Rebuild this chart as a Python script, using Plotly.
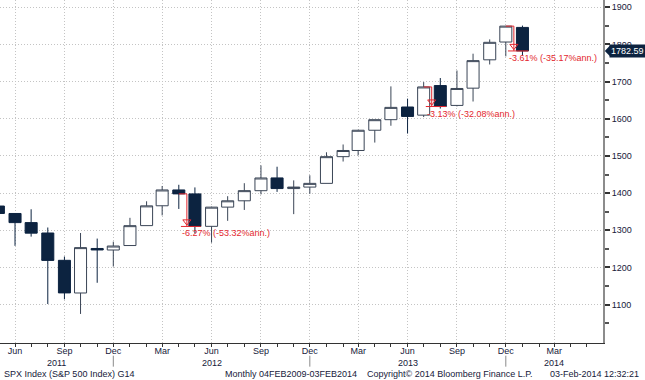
import plotly.graph_objects as go
from datetime import date, timedelta

# ---- data (monthly SPX candles) ----
months = ["2011-05-01", "2011-06-01", "2011-07-01", "2011-08-01", "2011-09-01", "2011-10-01",
          "2011-11-01", "2011-12-01", "2012-01-01", "2012-02-01", "2012-03-01", "2012-04-01",
          "2012-05-01", "2012-06-01", "2012-07-01", "2012-08-01", "2012-09-01", "2012-10-01",
          "2012-11-01", "2012-12-01", "2013-01-01", "2013-02-01", "2013-03-01", "2013-04-01",
          "2013-05-01", "2013-06-01", "2013-07-01", "2013-08-01", "2013-09-01", "2013-10-01",
          "2013-11-01", "2013-12-01", "2014-01-01"]
open_ = [1365.2, 1345.2, 1320.6, 1292.6, 1219.1, 1131.2, 1251.0, 1246.9, 1258.9, 1312.5, 1365.9,
         1408.5, 1397.9, 1310.6, 1362.3, 1379.3, 1406.5, 1440.9, 1412.2, 1416.2, 1426.2, 1498.1,
         1514.7, 1569.2, 1597.6, 1631.7, 1609.8, 1689.4, 1636.0, 1682.4, 1758.7, 1806.6, 1845.9]
high = [1370.6, 1345.2, 1356.5, 1307.4, 1229.3, 1292.7, 1277.6, 1269.4, 1333.5, 1378.0, 1419.2,
        1422.4, 1415.3, 1363.5, 1391.7, 1426.7, 1474.5, 1471.0, 1434.3, 1448.0, 1509.9, 1530.9,
        1570.3, 1597.6, 1687.2, 1654.2, 1698.8, 1709.7, 1729.9, 1775.2, 1813.6, 1849.4, 1850.8]
low = [1311.8, 1258.1, 1282.9, 1101.5, 1114.2, 1074.8, 1158.7, 1202.4, 1258.9, 1312.5, 1340.0,
       1357.4, 1292.0, 1266.7, 1325.4, 1354.7, 1396.6, 1403.3, 1343.4, 1398.1, 1426.2, 1485.0,
       1501.5, 1536.0, 1581.3, 1560.3, 1604.6, 1627.5, 1633.4, 1646.5, 1746.2, 1768.0, 1770.5]
close = [1345.2, 1320.6, 1292.3, 1218.9, 1131.4, 1253.3, 1247.0, 1257.6, 1312.4, 1365.7, 1408.5,
         1397.9, 1310.3, 1362.2, 1379.3, 1406.6, 1440.7, 1412.2, 1416.2, 1426.2, 1498.1, 1514.7,
         1569.2, 1597.6, 1630.7, 1606.3, 1685.7, 1633.0, 1681.6, 1756.5, 1805.8, 1849.4, 1782.59]

# percent-change markers (index of candle, label)
mark_idx = [12, 27, 32]
mark_labels = ["-6.27% (-53.32%ann.)", "-3.13% (-32.08%ann.)", "-3.61% (-35.17%ann.)"]
last_price = 1782.59
last_label = "1782.59"

tick_dates = ["2011-06-01", "2011-09-01", "2011-12-01", "2012-03-01", "2012-06-01", "2012-09-01",
              "2012-12-01", "2013-03-01", "2013-06-01", "2013-09-01", "2013-12-01", "2014-03-01"]
tick_text = ["Jun", "Sep", "Dec", "Mar", "Jun", "Sep", "Dec", "Mar", "Jun", "Sep", "Dec", "Mar"]
year_text = ["2011", "2012", "2013", "2014"]
year_pos = ["2011-08-17", "2012-06-01", "2013-06-01", "2014-03-01"]
year_sep = ["2011-12-01", "2012-12-01", "2013-12-01"]

NAVY = "#0c2340"
EDGE = "#3a4556"
RED = "#e3262e"
FONT = "Liberation Sans"
TXT = "#16203a"
GRID = "#c4c4c4"

fig = go.Figure()
fig.add_trace(go.Candlestick(
    x=months, open=open_, high=high, low=low, close=close,
    increasing=dict(fillcolor="white", line=dict(color=EDGE, width=1)),
    decreasing=dict(fillcolor=NAVY, line=dict(color=NAVY, width=1)),
    whiskerwidth=0, showlegend=False, hoverinfo="skip"))

def d(s):
    return date.fromisoformat(s)

shapes = []
annotations = []
tri_x, tri_y = [], []
for i, lab in zip(mark_idx, mark_labels):
    cur = d(months[i]); prev = d(months[i - 1])
    mid = prev + (cur - prev) / 2
    y0 = close[i - 1]; y1 = close[i]
    shapes.append(dict(type="line", x0=prev.isoformat(), x1=mid.isoformat(), y0=y0, y1=y0,
                       line=dict(color=RED, width=1)))
    shapes.append(dict(type="line", x0=mid.isoformat(), x1=mid.isoformat(), y0=y0, y1=y1,
                       line=dict(color=RED, width=1)))
    shapes.append(dict(type="line", x0=(mid - timedelta(days=11)).isoformat(),
                       x1=(cur + timedelta(days=11)).isoformat(), y0=y1, y1=y1,
                       line=dict(color=RED, width=1)))
    tri_x.append(mid.isoformat()); tri_y.append(y1 + 13)
    annotations.append(dict(x=(mid - timedelta(days=12)).isoformat(), y=y1, xref="x", yref="y",
                            text=lab, showarrow=False, xanchor="left", yanchor="middle",
                            yshift=-7, font=dict(family=FONT, size=9, color=RED)))

fig.add_trace(go.Scatter(x=tri_x, y=tri_y, mode="markers", showlegend=False, hoverinfo="skip",
                         marker=dict(symbol="triangle-down-open", size=7, color=RED,
                                     line=dict(width=1, color=RED))))

# last price tag
annotations.append(dict(x=1, xref="paper", y=last_price, yref="y", text=last_label, showarrow=False,
                        xanchor="left", yanchor="middle", xshift=6, bgcolor=NAVY, borderpad=1,
                        font=dict(family=FONT, size=9, color="white")))
shapes.append(dict(type="path", xref="paper", yref="y",
                   path="M 1.003 %f L 1.012 %f L 1.012 %f Z" % (last_price, last_price + 15, last_price - 15),
                   fillcolor=NAVY, line=dict(width=0)))

# year labels and separators under the month ticks
for t, p in zip(year_text, year_pos):
    annotations.append(dict(x=p, xref="x", y=0, yref="paper", yshift=-19.5, text=t,
                            showarrow=False, xanchor="center", yanchor="middle",
                            font=dict(family=FONT, size=9, color=TXT)))
for p in year_sep:
    shapes.append(dict(type="line", xref="x", yref="paper", x0=p, x1=p, y0=-0.037, y1=-0.069,
                       line=dict(color="#8a8a8a", width=1)))

# footer
foot = [("SPX Index (S&P 500 Index) G14", 2),
        ("Monthly 04FEB2009-03FEB2014", 223),
        ("Copyright\u00a9 2014 Bloomberg Finance L.P.", 365),
        ("03-Feb-2014 12:32:21", 548)]
for t, px in foot:
    annotations.append(dict(x=px / 603, xref="paper", y=0, yref="paper", yshift=-31, text=t,
                            showarrow=False, xanchor="left", yanchor="middle",
                            font=dict(family=FONT, size=9, color=TXT)))

fig.update_layout(
    width=645, height=380, margin=dict(l=0, r=42, t=0, b=37),
    paper_bgcolor="white", plot_bgcolor="white",
    font=dict(family=FONT, size=9, color=TXT),
    boxgap=0.2, boxgroupgap=0,
    shapes=shapes, annotations=annotations, showlegend=False,
    xaxis=dict(type="date", range=["2011-05-04", "2014-05-31"], rangeslider=dict(visible=False),
               tickmode="array", tickvals=tick_dates, ticktext=tick_text,
               showgrid=True, gridcolor=GRID, griddash="1px,2px", gridwidth=1,
               ticks="outside", ticklen=3, tickcolor="#333", showline=True, linecolor="#333",
               linewidth=1, zeroline=False, automargin=False, ticklabelstandoff=-4,
               tickfont=dict(family=FONT, size=9, color=TXT),
               minor=dict(tickmode="linear", tick0="2011-01-01", dtick="M1", ticks="outside",
                          ticklen=3, tickcolor="#333", showgrid=False)),
    yaxis=dict(side="right", range=[996.6, 1919.7],
               showgrid=True, gridcolor=GRID, griddash="1px,2px", gridwidth=1,
               ticks="outside", ticklen=5, tickwidth=2, tickcolor="#333", showline=True,
               linecolor="#8c8c8c", linewidth=2, zeroline=False, automargin=False,
               tickfont=dict(family=FONT, size=9, color=TXT),
               tickmode="array", tickvals=[1100, 1200, 1300, 1400, 1500, 1600, 1700, 1800, 1900],
               minor=dict(tickmode="linear", tick0=1050, dtick=100, ticks="outside", ticklen=4,
                          tickcolor="#555", showgrid=False)),
)

fig.write_html("out.html", config={"displayModeBar": False},
               post_script="document.body.style.margin='0';document.body.style.overflow='hidden';")
